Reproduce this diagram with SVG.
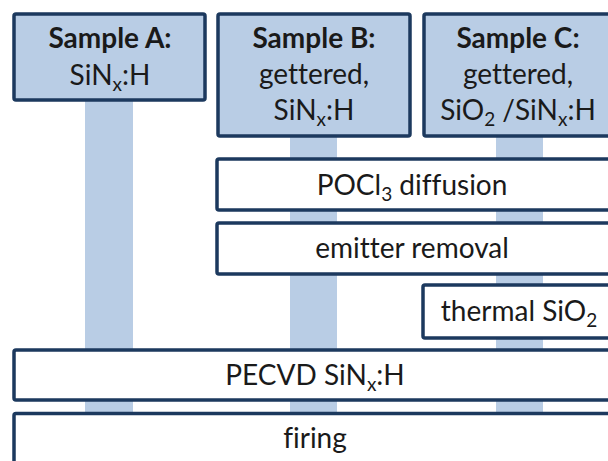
<svg xmlns="http://www.w3.org/2000/svg" width="608" height="461" viewBox="0 0 608 461">
<style>
.sample{fill:#b9cde5;stroke:#1c395e;stroke-width:3.5}
.step{fill:#ffffff;stroke:#1c395e;stroke-width:3.5}
.lane{fill:#b9cde5}
text{font-family:Lato,"Liberation Sans",sans-serif;font-size:28px;fill:#1a1a1a;text-anchor:middle;font-variant-ligatures:none;font-feature-settings:"liga" 0,"clig" 0}
.b{font-weight:bold}
</style>
<rect width="608" height="461" fill="#ffffff"/>
<g id="connectors">
<rect class="lane" x="85" y="100" width="48" height="320"/>
<rect class="lane" x="290" y="136" width="47" height="284"/>
<rect class="lane" x="496" y="136" width="47" height="284"/>
</g>
<g id="sampleA">
<rect class="sample" x="14" y="14" width="191" height="86" rx="2"/>
<text class="b" x="110" y="48">Sample A:</text>
<text x="110" y="85">SiN<tspan font-size="19" dy="6">x</tspan><tspan dy="-6">:H</tspan></text>
</g>
<g id="sampleB">
<rect class="sample" x="218" y="14" width="192" height="122" rx="2"/>
<text class="b" x="314" y="48">Sample B:</text>
<text x="314" y="84">gettered,</text>
<text x="314" y="120">SiN<tspan font-size="19" dy="6">x</tspan><tspan dy="-6">:H</tspan></text>
</g>
<g id="sampleC">
<rect class="sample" x="424" y="14" width="192" height="122" rx="2"/>
<text class="b" x="518" y="48">Sample C:</text>
<text x="518" y="84">gettered,</text>
<text x="518" y="120">SiO<tspan font-size="19" dy="6">2</tspan><tspan dy="-6"> /SiN</tspan><tspan font-size="19" dy="6">x</tspan><tspan dy="-6">:H</tspan></text>
</g>
<g id="pocl3">
<rect class="step" x="217" y="159" width="420" height="51" rx="2"/>
<text x="412" y="195">POCl<tspan font-size="19" dy="6">3</tspan><tspan dy="-6"> diffusion</tspan></text>
</g>
<g id="emitter">
<rect class="step" x="217" y="223" width="420" height="51" rx="2"/>
<text x="412" y="258">emitter removal</text>
</g>
<g id="thermal">
<rect class="step" x="423" y="285" width="220" height="53" rx="2"/>
<text x="519" y="321">thermal SiO<tspan font-size="19" dy="6">2</tspan></text>
</g>
<g id="pecvd">
<rect class="step" x="14" y="350" width="620" height="50" rx="2"/>
<text x="315" y="385">PECVD SiN<tspan font-size="19" dy="6">x</tspan><tspan dy="-6">:H</tspan></text>
</g>
<g id="firing">
<rect class="step" x="14" y="413.5" width="620" height="70" rx="2"/>
<text x="315" y="448">firing</text>
</g>
</svg>
